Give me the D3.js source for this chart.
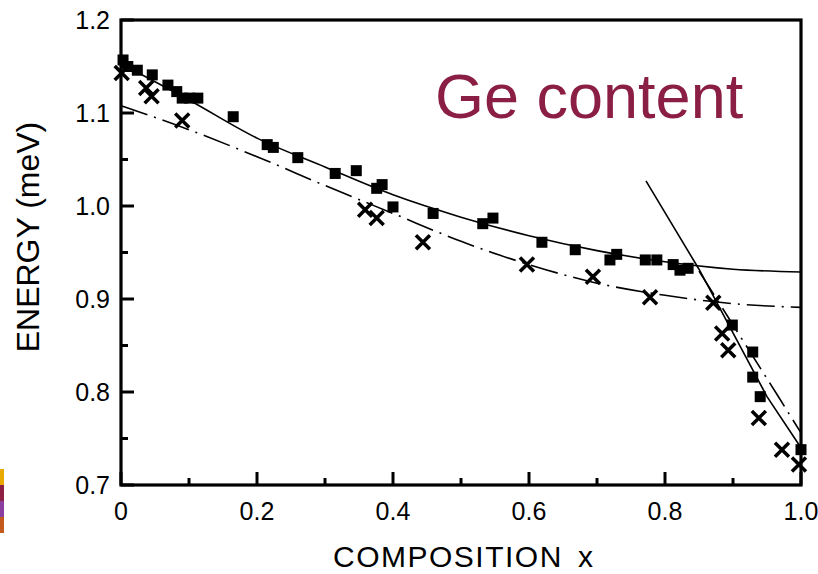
<!DOCTYPE html>
<html>
<head>
<meta charset="utf-8">
<script src="https://cdn.jsdelivr.net/npm/d3@7"></script>
<style>
	body { margin: 0; background: #fff; }
	text { font-family: 'Liberation Sans', Arial, sans-serif; }
</style>
</head>
<body>
<script>
'use strict';

// measured points (filled squares)
var squareX = [0.003, 0.010, 0.024, 0.046, 0.069, 0.082, 0.090, 0.101, 0.113, 0.165, 0.215, 0.224, 0.260,
	0.315, 0.346, 0.376, 0.384, 0.400, 0.459, 0.532, 0.547, 0.619, 0.668, 0.719, 0.729, 0.771, 0.788,
	0.812, 0.822, 0.834, 0.899, 0.929, 0.929, 0.940, 1.000];
var squareE = [1.157, 1.150, 1.146, 1.141, 1.130, 1.123, 1.116, 1.116, 1.116, 1.096, 1.066, 1.063, 1.052,
	1.035, 1.038, 1.019, 1.023, 0.999, 0.992, 0.981, 0.987, 0.961, 0.953, 0.942, 0.948, 0.942, 0.942,
	0.937, 0.931, 0.933, 0.872, 0.843, 0.816, 0.795, 0.738];

// measured points (crosses)
var crossX = [0.001, 0.037, 0.045, 0.090, 0.359, 0.376, 0.444, 0.597, 0.694, 0.778, 0.871, 0.884, 0.893, 0.938, 0.972, 0.997];
var crossE = [1.143, 1.127, 1.118, 1.092, 0.996, 0.987, 0.961, 0.937, 0.924, 0.902, 0.896, 0.863, 0.845, 0.772, 0.738, 0.722];

// fitted curves
var solidX = [0, 0.1, 0.2, 0.3, 0.4, 0.5, 0.6, 0.7, 0.8, 0.9, 1.0];
var solidE = [1.153, 1.114, 1.073, 1.042, 1.012, 0.988, 0.968, 0.952, 0.940, 0.932, 0.929];
var dashX = [0, 0.1, 0.2, 0.3, 0.4, 0.5, 0.6, 0.7, 0.8, 0.9, 1.0];
var dashE = [1.108, 1.082, 1.053, 1.022, 0.992, 0.962, 0.937, 0.917, 0.904, 0.895, 0.891];
var steepSolidX = [0.772, 0.85, 0.95, 1.0];
var steepSolidE = [1.027, 0.932, 0.795, 0.740];
var steepDashX = [0.85, 0.965, 1.0];
var steepDashE = [0.930, 0.797, 0.756];

var xTicks = [0, 0.2, 0.4, 0.6, 0.8, 1.0];
var xTickLabels = ['0', '0.2', '0.4', '0.6', '0.8', '1.0'];
var xMinor = [0.1, 0.3, 0.5, 0.7, 0.9];
var yTicks = [0.7, 0.8, 0.9, 1.0, 1.1, 1.2];
var yTickLabels = ['0.7', '0.8', '0.9', '1.0', '1.1', '1.2'];
var yMinor = [0.75, 0.85, 0.95, 1.05, 1.15];

var stripeColors = ['#e8a900', '#8e2043', '#8a3fa0', '#c45a1e'];

var W = 818, H = 574;
var svg = d3.select('body').append('svg').attr('width', W).attr('height', H);

var x = d3.scaleLinear().domain([0, 1]).range([121, 801]);
var y = d3.scaleLinear().domain([0.7, 1.2]).range([485, 20]);
var x0 = x(0), y0 = y(0.7);

// colour strip at left edge
svg.selectAll('rect.stripe')
	.data(stripeColors)
	.enter()
	.append('rect')
	.attr('class', 'stripe')
	.attr('x', 0)
	.attr('y', (d, i) => 469 + i * 16)
	.attr('width', 4)
	.attr('height', 16)
	.attr('fill', d => d);

// frame
svg.append('rect')
	.attr('x', x0).attr('y', y(1.2))
	.attr('width', x(1) - x0).attr('height', y0 - y(1.2))
	.attr('fill', 'none').attr('stroke', '#000').attr('stroke-width', 3.2);

// ticks, pointing inward
var xTickData = xTicks.map(d => [d, 13]).concat(xMinor.map(d => [d, 7]));
svg.selectAll('line.xtick')
	.data(xTickData)
	.enter()
	.append('line')
	.attr('class', 'xtick')
	.attr('x1', d => x(d[0])).attr('x2', d => x(d[0]))
	.attr('y1', y0).attr('y2', d => y0 - d[1])
	.attr('stroke', '#000').attr('stroke-width', 3);

var yTickData = yTicks.map(d => [d, 13]).concat(yMinor.map(d => [d, 7]));
svg.selectAll('line.ytick')
	.data(yTickData)
	.enter()
	.append('line')
	.attr('class', 'ytick')
	.attr('x1', x0).attr('x2', d => x0 + d[1])
	.attr('y1', d => y(d[0])).attr('y2', d => y(d[0]))
	.attr('stroke', '#000').attr('stroke-width', 3);

svg.selectAll('text.xlab')
	.data(xTicks)
	.enter()
	.append('text')
	.attr('class', 'xlab')
	.attr('x', d => x(d))
	.attr('y', y0 + 35)
	.attr('text-anchor', 'middle')
	.attr('font-size', 25)
	.text((d, i) => xTickLabels[i]);

svg.selectAll('text.ylab')
	.data(yTicks)
	.enter()
	.append('text')
	.attr('class', 'ylab')
	.attr('x', x0 - 11)
	.attr('y', d => y(d) + 9)
	.attr('text-anchor', 'end')
	.attr('font-size', 25)
	.text((d, i) => yTickLabels[i]);

// axis titles
svg.append('text')
	.attr('x', 333).attr('y', 567)
	.attr('font-size', 30).attr('letter-spacing', 1.5)
	.text('COMPOSITION');
svg.append('text')
	.attr('x', 578).attr('y', 567)
	.attr('font-size', 30)
	.text('x');

svg.append('text')
	.attr('transform', 'translate(39,237) rotate(-90)')
	.attr('text-anchor', 'middle')
	.attr('font-size', 32)
	.text('ENERGY (meV)');

// curves
var line = d3.line().x(d => x(d[0])).y(d => y(d[1])).curve(d3.curveMonotoneX);
var zip = (xs, ys) => xs.map((v, i) => [v, ys[i]]);

svg.append('path').attr('d', line(zip(solidX, solidE)))
	.attr('fill', 'none').attr('stroke', '#000').attr('stroke-width', 1.6);
svg.append('path').attr('d', line(zip(dashX, dashE)))
	.attr('fill', 'none').attr('stroke', '#000').attr('stroke-width', 1.6)
	.attr('stroke-dasharray', '28,7,2,7');

var straight = d3.line().x(d => x(d[0])).y(d => y(d[1]));
svg.append('path').attr('d', straight(zip(steepSolidX, steepSolidE)))
	.attr('fill', 'none').attr('stroke', '#000').attr('stroke-width', 1.6);
svg.append('path').attr('d', straight(zip(steepDashX, steepDashE)))
	.attr('fill', 'none').attr('stroke', '#000').attr('stroke-width', 1.6)
	.attr('stroke-dasharray', '28,7,2,7');

// squares
svg.selectAll('rect.sq')
	.data(zip(squareX, squareE))
	.enter()
	.append('rect')
	.attr('class', 'sq')
	.attr('x', d => x(d[0]) - 5.5)
	.attr('y', d => y(d[1]) - 5.5)
	.attr('width', 11)
	.attr('height', 11)
	.attr('fill', '#000');

// crosses
var s = 7;
svg.selectAll('path.cross')
	.data(zip(crossX, crossE))
	.enter()
	.append('path')
	.attr('class', 'cross')
	.attr('d', d => {
		var cx = x(d[0]), cy = y(d[1]);
		return 'M' + (cx - s) + ',' + (cy - s) + 'L' + (cx + s) + ',' + (cy + s) +
			'M' + (cx - s) + ',' + (cy + s) + 'L' + (cx + s) + ',' + (cy - s);
	})
	.attr('stroke', '#000')
	.attr('stroke-width', 3.5)
	.attr('fill', 'none');

// annotation
svg.append('text')
	.attr('x', 435).attr('y', 118)
	.attr('font-size', 63)
	.attr('fill', '#8b1e44')
	.text('Ge content');
</script>
</body>
</html>
